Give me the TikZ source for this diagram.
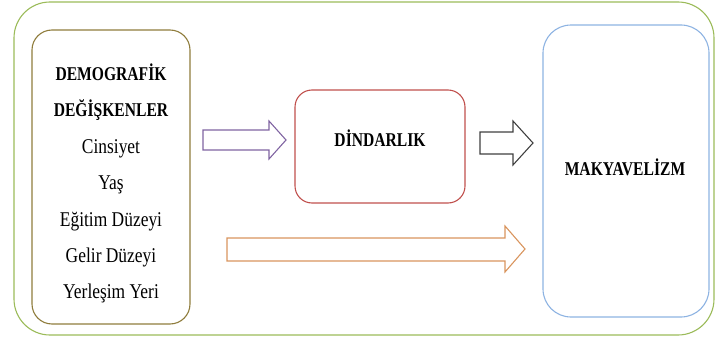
\documentclass[tikz,border=0pt]{standalone}
\usepackage{fontspec}
\setmainfont{Liberation Serif}[FakeStretch=0.83,BoldFeatures={FakeStretch=0.8}]
\begin{document}
\begin{tikzpicture}[x=1pt,y=-1pt,
  frame/.style={draw=frameGreen,line width=1.1pt,rounded corners=36pt,minimum width=700pt,minimum height=333pt,inner sep=0pt},
  demobox/.style={draw=demoOlive,line width=1.1pt,rounded corners=20pt,minimum width=158pt,minimum height=294pt,inner sep=0pt},
  dinbox/.style={draw=dinRed,line width=1.1pt,rounded corners=17pt,minimum width=170pt,minimum height=113pt,inner sep=0pt},
  makbox/.style={draw=makBlue,line width=1.1pt,rounded corners=28pt,minimum width=166pt,minimum height=292pt,inner sep=0pt},
  head/.style={font=\bfseries\fontsize{19.5}{23}\selectfont,inner sep=0pt,anchor=base},
  item/.style={font=\fontsize{21}{25}\selectfont,inner sep=0pt,anchor=base},
  blockarrow/.style={line width=1.1pt,fill=white,line join=miter}
]
\definecolor{frameGreen}{HTML}{9BBB59}
\definecolor{demoOlive}{HTML}{8F7C3C}
\definecolor{dinRed}{HTML}{C0504D}
\definecolor{makBlue}{HTML}{8DB3E2}
\definecolor{arrPurple}{HTML}{8064A2}
\definecolor{arrOrange}{HTML}{D9955E}
\definecolor{arrGray}{HTML}{404040}
\useasboundingbox (0,0) rectangle (718,340);
\node[frame] (outer) at (364,168.5) {};
\node[demobox] (demo) at (111,177) {};
\node[head] (l1) at (111,80) {DEMOGRAFİK};
\node[head] (l2) at (111,116) {DEĞİŞKENLER};
\node[item] (l3) at (111,153) {Cinsiyet};
\node[item] (l4) at (111,189) {Yaş};
\node[item] (l5) at (111,226) {Eğitim Düzeyi};
\node[item] (l6) at (111,262) {Gelir Düzeyi};
\node[item] (l7) at (111,298) {Yerleşim Yeri};
\node[dinbox] (din) at (380,146.5) {};
\node[head] (dintext) at (380,146) {DİNDARLIK};
\node[makbox] (mak) at (626,171) {};
\node[head] (maktext) at (625,175) {MAKYAVELİZM};
% purple arrow demo -> din
\draw[blockarrow,draw=arrPurple]
  (203,130) -- (269,130) -- (269,121) -- (286,140) -- (269,159) -- (269,150) -- (203,150) -- cycle;
% gray arrow din -> mak
\draw[blockarrow,draw=arrGray]
  (480,132) -- (513,132) -- (513,121) -- (533,143) -- (513,165) -- (513,154) -- (480,154) -- cycle;
% orange arrow demo -> mak
\draw[blockarrow,draw=arrOrange]
  (227,238) -- (505,238) -- (505,226) -- (525,249) -- (505,272) -- (505,261) -- (227,261) -- cycle;
\end{tikzpicture}
\end{document}
